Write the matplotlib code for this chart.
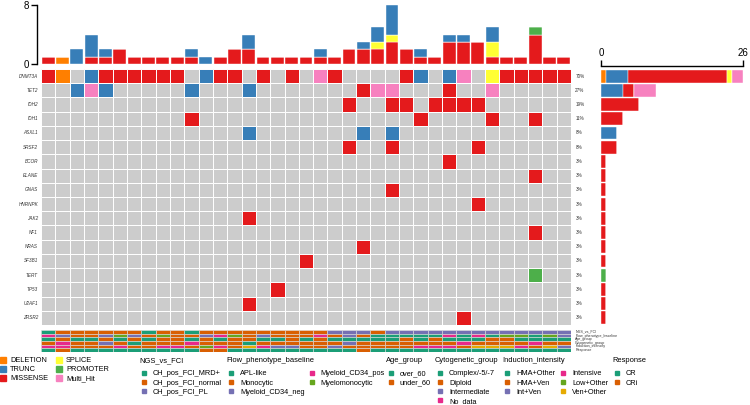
import matplotlib
matplotlib.use('Agg')
import matplotlib.pyplot as plt
from matplotlib.lines import Line2D
import numpy as np

plt.rcParams['font.family'] = ['Liberation Sans', 'DejaVu Sans']

W = 750
H = 405
n_samples = 37

genes = ['DNMT3A', 'TET2', 'IDH2', 'IDH1', 'ASXL1', 'SRSF2', 'BCOR', 'ELANE', 'GNAS',
         'HNRNPK', 'JAK2', 'NF1', 'NRAS', 'SF3B1', 'TERT', 'TP53', 'U2AF1', 'ZRSR2']

# one char per sample: M missense, T trunc, D deletion, S splice, P promoter, H multi hit
gene_muts = [
    'MD.TMMMMMM' '.TMM.M.M.H' 'M....MT.TH' '.SMMMMM',   # DNMT3A
    '..THT.....' 'T...T.....' '..MHH...M.' '.H.....',   # TET2
    '..........' '..........' '.M..MM.MMM' 'M......',   # IDH2
    '..........' 'M.........' '......M...' '.M..M..',   # IDH1
    '..........' '....T.....' '..T.T.....' '.......',   # ASXL1
    '..........' '..........' '.M..M.....' 'M......',   # SRSF2
    '..........' '..........' '........M.' '.......',   # BCOR
    '..........' '..........' '..........' '....M..',   # ELANE
    '..........' '..........' '....M.....' '.......',   # GNAS
    '..........' '..........' '..........' 'M......',   # HNRNPK
    '..........' '....M.....' '..........' '.......',   # JAK2
    '..........' '..........' '..........' '....M..',   # NF1
    '..........' '..........' '..M.......' '.......',   # NRAS
    '..........' '........M.' '..........' '.......',   # SF3B1
    '..........' '..........' '..........' '....P..',   # TERT
    '..........' '......M...' '..........' '.......',   # TP53
    '..........' '....M.....' '..........' '.......',   # U2AF1
    '..........' '..........' '.........M' '.......',   # ZRSR2
]

var_names = ['DELETION', 'TRUNC', 'MISSENSE', 'SPLICE', 'PROMOTER', 'Multi_Hit']
var_codes = ['D', 'T', 'M', 'S', 'P', 'H']
var_colors = ['#FF7F00', '#377EB8', '#E41A1C', '#FFFF33', '#4DAF4A', '#F781BF']

# variants per sample (top bar)
top_deletion = [0, 1, 0, 0, 0, 0, 0, 0, 0, 0, 0, 0, 0, 0, 0, 0, 0, 0, 0, 0,
                0, 0, 0, 0, 0, 0, 0, 0, 0, 0, 0, 0, 0, 0, 0, 0, 0]
top_missense = [1, 0, 0, 1, 1, 2, 1, 1, 1, 1, 1, 0, 1, 2, 2, 1, 1, 1, 1, 1,
                1, 2, 2, 2, 3, 2, 1, 1, 3, 3, 3, 1, 1, 1, 4, 1, 1]
top_splice = [0, 0, 0, 0, 0, 0, 0, 0, 0, 0, 0, 0, 0, 0, 0, 0, 0, 0, 0, 0,
              0, 0, 0, 1, 1, 0, 0, 0, 0, 0, 0, 2, 0, 0, 0, 0, 0]
top_promoter = [0, 0, 0, 0, 0, 0, 0, 0, 0, 0, 0, 0, 0, 0, 0, 0, 0, 0, 0, 0,
                0, 0, 0, 0, 0, 0, 0, 0, 0, 0, 0, 0, 0, 0, 1, 0, 0]
top_trunc = [0, 0, 2, 3, 1, 0, 0, 0, 0, 0, 1, 1, 0, 0, 2, 0, 0, 0, 0, 1,
             0, 0, 1, 2, 4, 0, 1, 0, 1, 1, 0, 2, 0, 0, 0, 0, 0]

# clinical annotation, digit = index into the category list
anno_names = ['NGS_vs_FCI', 'Flow_phenotype_baseline', 'Age_group',
              'Cytogenetic_group', 'Induction_intensity', 'Response']
ngs_cats = ['CH_pos_FCI_MRD+', 'CH_pos_FCI_normal', 'CH_pos_FCI_PL']
flow_cats = ['APL-like', 'Monocytic', 'Myeloid_CD34_neg', 'Myeloid_CD34_pos', 'Myelomonocytic']
age_cats = ['over_60', 'under_60']
cyto_cats = ['Complex/-5/-7', 'Diploid', 'Intermediate', 'No_data']
induction_cats = ['HMA+Other', 'HMA+Ven', 'Int+Ven', 'Intensive', 'Low+Other', 'Ven+Other']
response_cats = ['CR', 'CRi']

ngs_vals = '0111111011' '0111111111' '2221222222' '2222222'
flow_vals = '3211242141' '1234121113' '1210000030' '3044042'
age_vals = '0100101011' '0101100101' '0000010100' '0110000'
cyto_vals = '1311210111' '3111011111' '1211111113' '1111311'
induction_vals = '3311131133' '1431532211' '2111113331' '5553152'
response_vals = '0100000000' '0110000000' '0010000000' '0000000'

dark2 = ['#1B9E77', '#D95F02', '#7570B3', '#E7298A', '#66A61E', '#E6AB02']
gray = '#CCCCCC'


def px_box(x0, y0, x1, y1):
    # pixel box (from top left) -> figure fraction rect
    return [x0 / W, 1 - y1 / H, (x1 - x0) / W, (y1 - y0) / H]


fig = plt.figure(figsize=(W / 100, H / 100), dpi=100)
cols = np.arange(n_samples)

# ---- top bar: variants per sample
ax_top = fig.add_axes(px_box(41, 5, 571, 64))
bottom = np.zeros(n_samples)
for vals, c in zip([top_deletion, top_missense, top_splice, top_promoter, top_trunc],
                   [var_colors[0], var_colors[2], var_colors[3], var_colors[4], var_colors[1]]):
    ax_top.bar(cols, vals, bottom=bottom, width=0.9, color=c, edgecolor='white', linewidth=0.3)
    bottom += np.array(vals)
ax_top.set_xlim(-0.5, n_samples - 0.5)
ax_top.set_ylim(0, 8)
for s in ['top', 'right', 'bottom']:
    ax_top.spines[s].set_visible(False)
ax_top.spines['left'].set_position(('outward', 3))
ax_top.spines['left'].set_bounds(0, 8)
ax_top.spines['left'].set_linewidth(1.0)
ax_top.set_yticks([0, 8])
ax_top.tick_params(axis='y', labelsize=7, length=4, width=1.0, pad=2)
ax_top.set_xticks([])

# ---- main oncoprint grid
ax = fig.add_axes(px_box(41, 69, 571, 325))
for i, row in enumerate(gene_muts):
    colors = [gray if ch == '.' else var_colors[var_codes.index(ch)] for ch in row]
    ax.bar(cols, 1, bottom=i - 0.5, width=1, color=colors, edgecolor='white', linewidth=0.7)
    ax.text(-0.7, i, genes[i], ha='right', va='center', fontsize=3.3, style='italic', color='#333333')
    n_alt = sum(ch != '.' for ch in row)
    ax.text(n_samples - 0.2, i, '%d%%' % round(100 * n_alt / n_samples),
            ha='left', va='center', fontsize=3.3, color='#333333')
ax.set_xlim(-0.5, n_samples - 0.5)
ax.set_ylim(len(genes) - 0.5, -0.5)
ax.axis('off')

# ---- right bar: variants per gene
ax_r = fig.add_axes(px_box(601, 69, 743, 325))
left = np.zeros(len(genes))
for code, c in zip(var_codes, var_colors):
    counts = np.array([row.count(code) for row in gene_muts])
    ax_r.barh(np.arange(len(genes)), counts, left=left, height=0.9, color=c,
              edgecolor='white', linewidth=0.3)
    left += counts
ax_r.set_xlim(0, 26)
ax_r.set_ylim(len(genes) - 0.5, -0.5)
for s in ['bottom', 'right', 'left']:
    ax_r.spines[s].set_visible(False)
ax_r.spines['top'].set_position(('outward', 2))
ax_r.spines['top'].set_linewidth(1.0)
ax_r.xaxis.tick_top()
ax_r.set_xticks([0, 26])
ax_r.tick_params(axis='x', labelsize=7, length=4, width=1.0, pad=2)
ax_r.set_yticks([])

# ---- clinical annotation tracks
ax_a = fig.add_axes(px_box(41, 330, 571, 352))
anno_vals = [ngs_vals, flow_vals, age_vals, cyto_vals, induction_vals, response_vals]
for i, vals in enumerate(anno_vals):
    colors = [dark2[int(v)] for v in vals]
    ax_a.bar(cols, 1, bottom=i - 0.5, width=1, color=colors, edgecolor='#DDDDDD', linewidth=0.4)
    ax_a.text(n_samples - 0.2, i, anno_names[i], ha='left', va='center', fontsize=2.6, color='#333333')
ax_a.set_xlim(-0.5, n_samples - 0.5)
ax_a.set_ylim(len(anno_vals) - 0.5, -0.5)
ax_a.axis('off')


# ---- legends
def add_legend(x, y, labels, colors, title=None, ncol=1, ms=3.2, hl=1.4, colsp=0.15):
    handles = [Line2D([], [], ls='', marker='s', ms=ms, color=c) for c in colors]
    leg = fig.legend(handles, labels, title=title, loc='upper left',
                     bbox_to_anchor=(x / W, 1 - y / H), ncol=ncol, frameon=False,
                     fontsize=5.3, title_fontsize=5.4, borderpad=0, borderaxespad=0,
                     handlelength=hl, handletextpad=0.5, labelspacing=0.27,
                     columnspacing=colsp, alignment='left')
    if title is not None:
        leg._legend_box.sep = 4.5
    return leg


add_legend(0, 357, var_names, var_colors, ncol=2, ms=3.8, hl=0.9, colsp=1.0)
add_legend(139, 357, ngs_cats, dark2[:3], title='NGS_vs_FCI')
add_legend(226, 357, flow_cats, dark2[:5], title='Flow_phenotype_baseline', ncol=2, colsp=0.3)
add_legend(386, 357, age_cats, dark2[:2], title='Age_group')
add_legend(435, 357, cyto_cats, dark2[:4], title='Cytogenetic_group')
add_legend(502, 357, induction_cats, dark2[:6], title='Induction_intensity', ncol=2, colsp=0.4)
add_legend(612, 357, response_cats, dark2[:2], title='Response')

fig.savefig('out.png', dpi=100)
